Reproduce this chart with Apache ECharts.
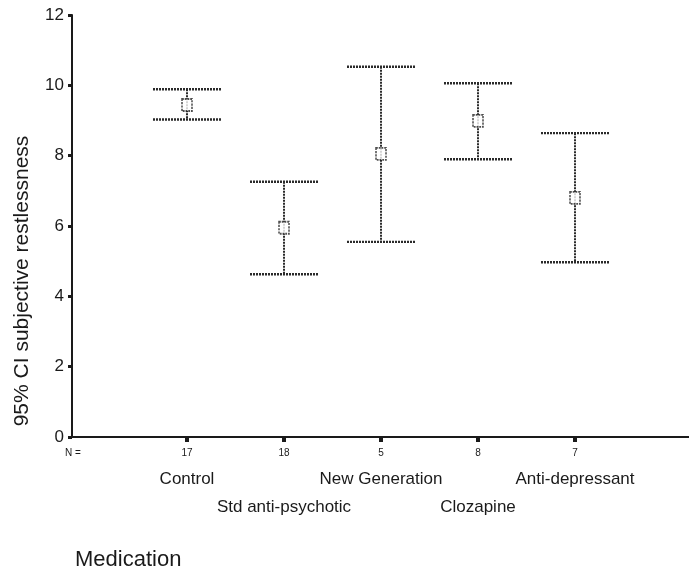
<!DOCTYPE html>
<html>
<head>
<meta charset="utf-8">
<script src="https://cdn.jsdelivr.net/npm/echarts@6/dist/echarts.min.js"></script>
<style>
  html, body { margin: 0; padding: 0; background: #fff; }
  #chart { width: 689px; height: 574px; }
</style>
</head>
<body>
<div id="chart"></div>
<script>
// Medication groups and their sample sizes
const categories = ['Control', 'Std anti-psychotic', 'New Generation', 'Clozapine', 'Anti-depressant'];
const nCounts = [17, 18, 5, 8, 7];
// Mean subjective restlessness with 95% confidence interval bounds
const means = [9.44, 5.95, 8.05, 8.99, 6.80];
const lower = [9.03, 4.63, 5.55, 7.90, 4.97];
const upper = [9.89, 7.26, 10.53, 10.06, 8.64];
// Value-axis ticks
const yTicks = { min: 0, max: 12, interval: 2 };

const FONT = '"Liberation Sans", Arial, Helvetica, sans-serif';
const INK = '#1a1a1a';

const chart = echarts.init(document.getElementById('chart'));

const ciData = categories.map((c, i) => [i, lower[i], upper[i]]);
const meanData = categories.map((c, i) => [i, means[i]]);

const option = {
  animation: false,
  backgroundColor: '#ffffff',
  textStyle: { fontFamily: FONT },
  grid: [
    // frame holding the axis lines
    { left: 72, right: 0, top: 15, bottom: 137, containLabel: false, outerBoundsMode: 'none' },
    // band for the medication groups
    { left: 138.5, width: 485, top: 15, bottom: 137, containLabel: false, outerBoundsMode: 'none' }
  ],
  xAxis: [
    {
      gridIndex: 0, type: 'value', min: 0, max: 1, position: 'bottom',
      axisLine: { show: true, lineStyle: { color: INK, width: 2 } },
      axisTick: { show: false }, axisLabel: { show: false }, splitLine: { show: false }
    },
    {
      gridIndex: 1, type: 'category', data: categories, boundaryGap: true, position: 'bottom',
      axisLine: { show: false },
      axisTick: { show: true, alignWithLabel: true, length: 5, lineStyle: { color: INK, width: 4 } },
      axisLabel: {
        interval: 0, margin: 11, fontSize: 10, color: INK, fontFamily: FONT,
        formatter: (v, i) => String(nCounts[i])
      },
      splitLine: { show: false }
    },
    {
      gridIndex: 1, type: 'category', data: categories, boundaryGap: true, position: 'bottom',
      axisLine: { show: false }, axisTick: { show: false },
      axisLabel: {
        interval: 0, margin: 34, color: INK, fontFamily: FONT, fontSize: 17,
        formatter: (v, i) => (i % 2 === 0 ? '{a|' + v + '}' : '{b|' + v + '}'),
        rich: {
          a: { fontSize: 17, fontFamily: FONT, color: INK },
          b: { fontSize: 17, fontFamily: FONT, color: INK, padding: [28, 0, 0, 0] }
        }
      },
      splitLine: { show: false }
    }
  ],
  yAxis: [
    {
      gridIndex: 0, type: 'value', min: yTicks.min, max: yTicks.max, interval: yTicks.interval,
      axisLine: { show: true, lineStyle: { color: INK, width: 2 } },
      axisTick: { show: true, length: 4, lineStyle: { color: INK, width: 3 } },
      axisLabel: { fontSize: 17, color: INK, margin: 8, fontFamily: FONT },
      splitLine: { show: false }
    },
    {
      gridIndex: 1, type: 'value', min: yTicks.min, max: yTicks.max, interval: yTicks.interval,
      show: false
    }
  ],
  graphic: [
    {
      type: 'text', x: 22, y: 281, rotation: Math.PI / 2,
      style: {
        text: '95% CI subjective restlessness', fontSize: 21, fontFamily: FONT,
        fill: INK, align: 'center', verticalAlign: 'middle'
      }
    },
    {
      type: 'text', x: 75, y: 560,
      style: {
        text: 'Medication', fontSize: 22, fontFamily: FONT,
        fill: INK, align: 'left', verticalAlign: 'middle'
      }
    },
    {
      type: 'text', x: 65, y: 453,
      style: {
        text: 'N =', fontSize: 10, fontFamily: FONT,
        fill: INK, align: 'left', verticalAlign: 'middle'
      }
    }
  ],
  series: [
    {
      // confidence-interval whiskers with end caps
      type: 'custom',
      xAxisIndex: 1, yAxisIndex: 1,
      data: ciData,
      renderItem: (params, api) => {
        const x = api.value(0);
        const lo = api.coord([x, api.value(1)]);
        const hi = api.coord([x, api.value(2)]);
        const half = 34;
        const style = { stroke: '#2a2a2a', lineWidth: 2.4, lineDash: [2, 1] };
        return {
          type: 'group',
          children: [
            { type: 'line', shape: { x1: hi[0], y1: hi[1], x2: lo[0], y2: lo[1] }, style: Object.assign({}, style, { lineWidth: 2 }) },
            { type: 'line', shape: { x1: hi[0] - half, y1: hi[1], x2: hi[0] + half, y2: hi[1] }, style },
            { type: 'line', shape: { x1: lo[0] - half, y1: lo[1], x2: lo[0] + half, y2: lo[1] }, style }
          ]
        };
      },
      z: 2
    },
    {
      // group means
      type: 'scatter',
      xAxisIndex: 1, yAxisIndex: 1,
      data: meanData,
      symbol: 'rect',
      symbolSize: [10, 12],
      itemStyle: { color: '#ffffff', borderColor: '#222', borderWidth: 1.7, borderType: [2, 1] },
      z: 3
    }
  ]
};

chart.setOption(option);
</script>
</body>
</html>
